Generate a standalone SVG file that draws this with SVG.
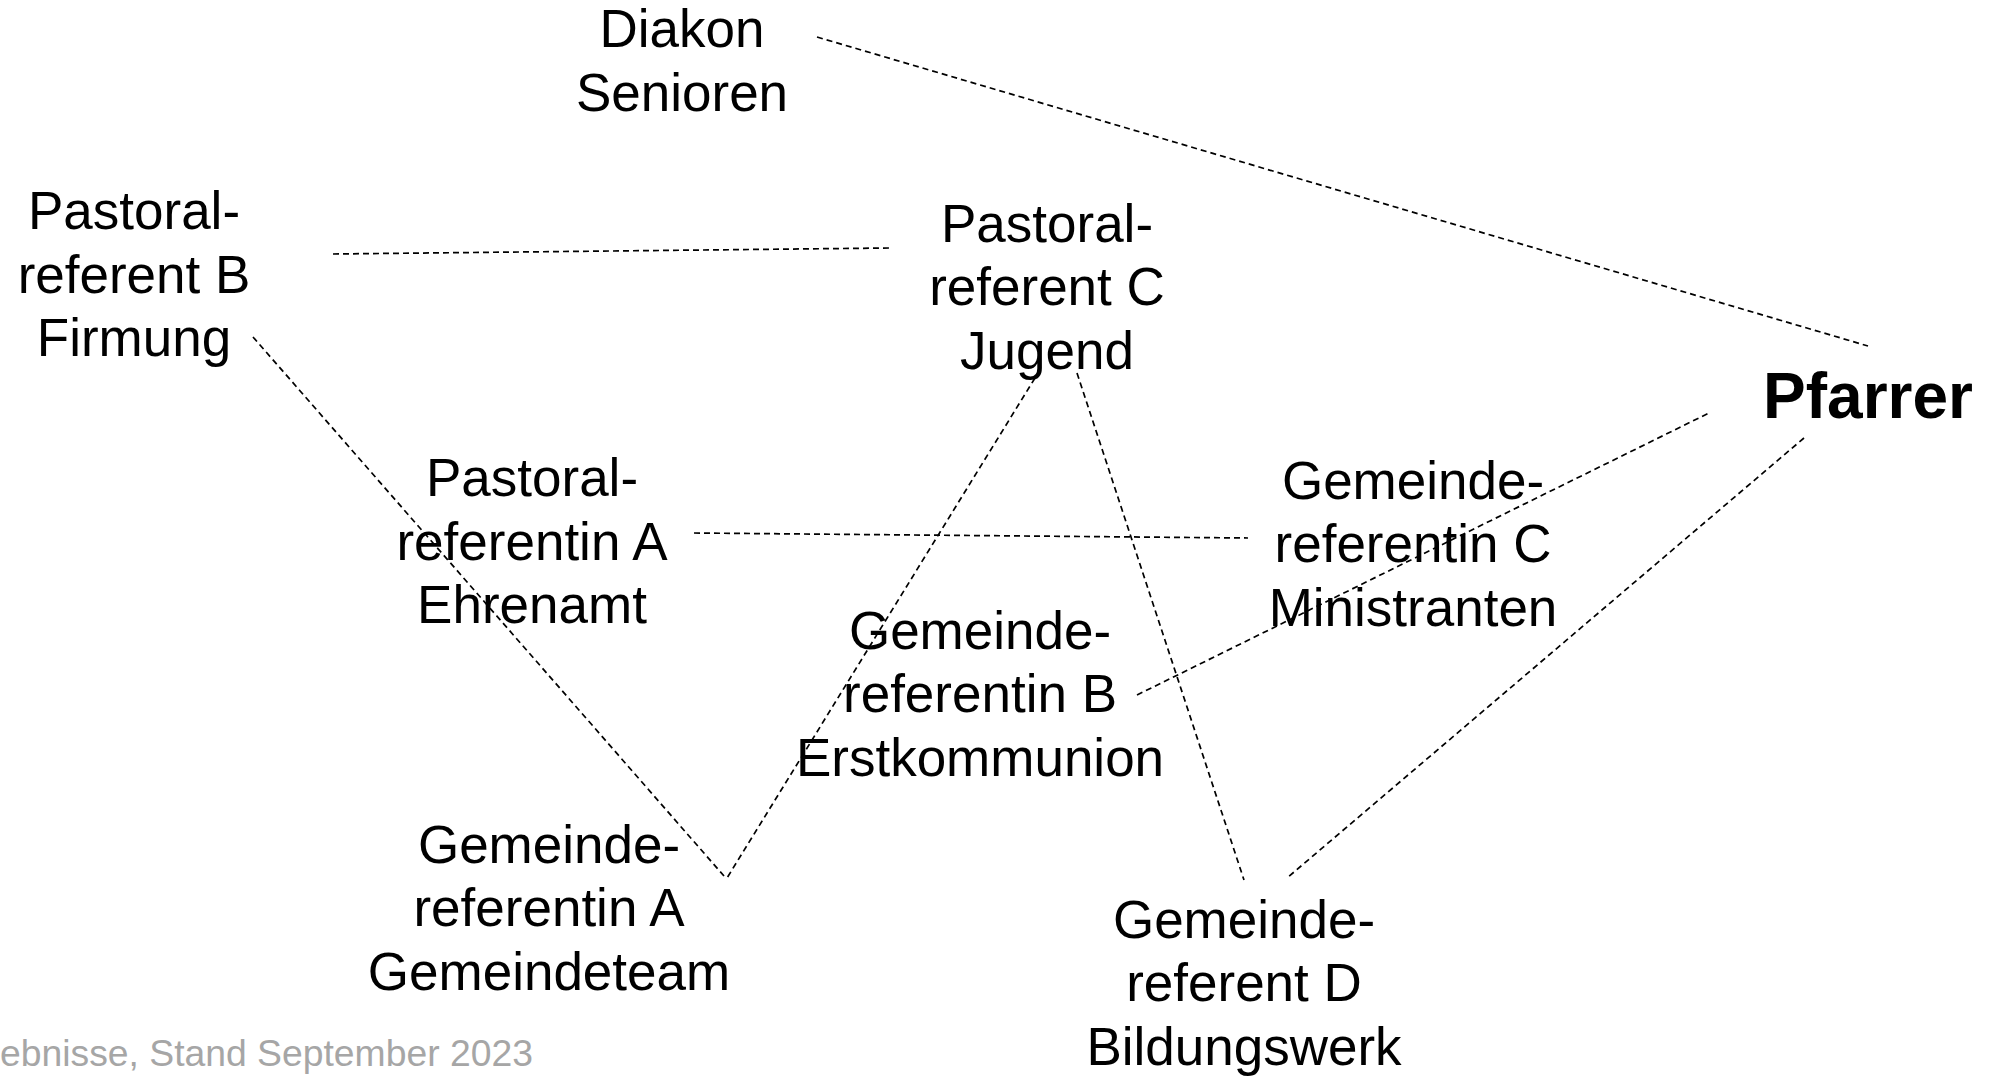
<svg xmlns="http://www.w3.org/2000/svg" width="1995" height="1077" viewBox="0 0 1995 1077">
<style>
text{font-family:"Liberation Sans",Arial,sans-serif;font-size:53px;fill:#000;text-anchor:middle}
.b{font-weight:bold;font-size:64px}
.f{font-size:37.3px;fill:#a6a6a6;text-anchor:start}
.c line{stroke:#000;stroke-width:1.7;stroke-dasharray:6 4;fill:none}
</style>
<rect width="1995" height="1077" fill="#fff"/>
<g class="c" id="connectors">
<line x1="817" y1="37" x2="1868" y2="346"/>
<line x1="333" y1="254" x2="889" y2="248"/>
<line x1="253" y1="337" x2="724" y2="876"/>
<line x1="1035" y1="378" x2="727" y2="878"/>
<line x1="1077" y1="373" x2="1244" y2="880"/>
<line x1="694" y1="533" x2="1248" y2="538"/>
<line x1="1137" y1="695" x2="1709" y2="413"/>
<line x1="1804" y1="438" x2="1287" y2="878"/>
</g>
<g id="diakon"><text x="682" y="47">Diakon</text><text x="682" y="111">Senioren</text></g>
<g id="pastoralB"><text x="134" y="229">Pastoral-</text><text x="134" y="293">referent B</text><text x="134" y="356">Firmung</text></g>
<g id="pastoralC"><text x="1047" y="242">Pastoral-</text><text x="1047" y="305">referent C</text><text x="1047" y="369">Jugend</text></g>
<g id="pfarrer"><text class="b" x="1868" y="418">Pfarrer</text></g>
<g id="pastoralA"><text x="532" y="496">Pastoral-</text><text x="532" y="560">referentin A</text><text x="532" y="623">Ehrenamt</text></g>
<g id="gemeindeC"><text x="1413" y="499">Gemeinde-</text><text x="1413" y="562">referentin C</text><text x="1413" y="626">Ministranten</text></g>
<g id="gemeindeB"><text x="980" y="649">Gemeinde-</text><text x="980" y="712">referentin B</text><text x="980" y="776">Erstkommunion</text></g>
<g id="gemeindeA"><text x="549" y="863">Gemeinde-</text><text x="549" y="926">referentin A</text><text x="549" y="990">Gemeindeteam</text></g>
<g id="gemeindeD"><text x="1244" y="938">Gemeinde-</text><text x="1244" y="1001">referent D</text><text x="1244" y="1065">Bildungswerk</text></g>
<text class="f" x="0" y="1066">ebnisse, Stand September 2023</text>
</svg>
